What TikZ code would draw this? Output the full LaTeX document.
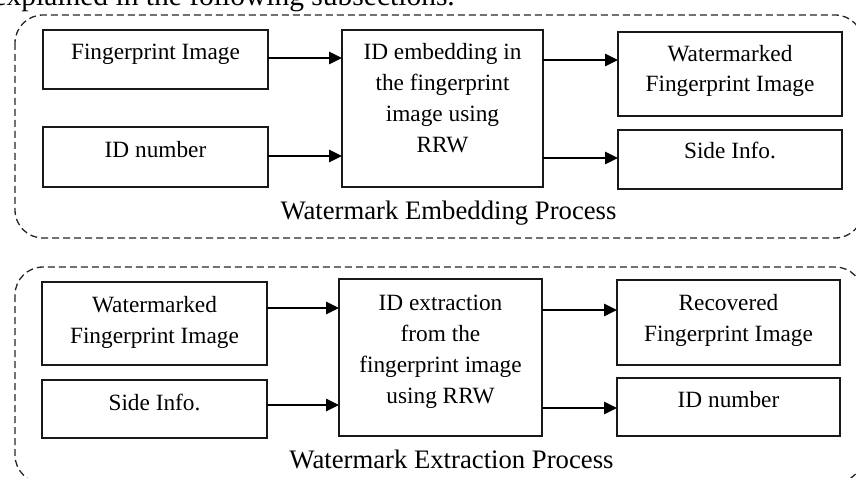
\documentclass[tikz,border=0pt]{standalone}
\usepackage{fontspec}
\setmainfont{Liberation Serif}
\usetikzlibrary{arrows.meta,calc}
\newcommand{\bxt}[4]{\parbox[c][#2][t]{#1}{\centering\rule{0pt}{#3}#4}}
\tikzset{
  blk/.style={draw=black!90, line width=1.5pt, inner sep=0pt, outer sep=0pt,
    font=\fontsize{23.3}{31}\selectfont},
  arr/.style={line width=1.5pt, -{Triangle[length=13pt,width=12.5pt]}},
  dashbox/.style={draw=black!85, line width=1.3pt, dash pattern=on 7pt off 4pt, rounded corners=28pt},
  proclabel/.style={font=\fontsize{26.7}{30}\selectfont, anchor=base, inner sep=0pt},
}
\begin{document}
\begin{tikzpicture}[x=1pt,y=-1pt]
\useasboundingbox (0,0) rectangle (856,478);
\clip (0,0) rectangle (856,478);
% cut page text at top
\node[anchor=base east, inner sep=0pt, font=\fontsize{29.5}{32}\selectfont] (pagetxt) at (455,5.5) {explained in the following subsections.};
% containers
\draw[dashbox] (15,15) rectangle (863,238);
\draw[dashbox] (15,267) rectangle (863,483);
% embedding
\node[blk] (fp1) at (155.5,59.5) {\bxt{225pt}{59pt}{30pt}{Fingerprint Image}};
\node[blk] (id1) at (155.5,157) {\bxt{225pt}{60pt}{31pt}{ID number}};
\node[blk] (emb) at (442.5,108.5) {\bxt{201pt}{157pt}{30pt}{ID embedding in\\the fingerprint\\image using\\RRW}};
\node[blk] (wm1) at (730,74) {\bxt{224pt}{84pt}{30pt}{Watermarked\\[-1pt]Fingerprint Image}};
\node[blk] (si1) at (730,159.5) {\bxt{224pt}{59pt}{29pt}{Side Info.}};
\node[proclabel] (lab1) at (448.5,220) {Watermark Embedding Process};
\coordinate (e1) at ($(fp1.east)+(0,-1.5)$);
\coordinate (e2) at ($(id1.east)+(0,-1)$);
\coordinate (e3) at ($(emb.east)+(0,-48.5)$);
\coordinate (e4) at ($(emb.east)+(0,49.5)$);
\draw[arr] (e1) -- (e1 -| emb.west);
\draw[arr] (e2) -- (e2 -| emb.west);
\draw[arr] (e3) -- (e3 -| wm1.west);
\draw[arr] (e4) -- (e4 -| si1.west);
% extraction
\node[blk] (wm2) at (154.5,323.5) {\bxt{225pt}{83pt}{30pt}{Watermarked\\Fingerprint Image}};
\node[blk] (si2) at (154.5,409) {\bxt{225pt}{58pt}{30pt}{Side Info.}};
\node[blk] (ext) at (440.5,357.5) {\bxt{203pt}{157pt}{31pt}{ID extraction\\from the\\fingerprint image\\using RRW}};
\node[blk] (rec) at (728.5,322.5) {\bxt{223pt}{85pt}{30pt}{Recovered\\Fingerprint Image}};
\node[blk] (id2) at (728.5,407) {\bxt{223pt}{58pt}{29pt}{ID number}};
\node[proclabel] (lab2) at (451.5,468) {Watermark Extraction Process};
\coordinate (x1) at ($(wm2.east)+(0,-15.5)$);
\coordinate (x2) at ($(si2.east)+(0,-4)$);
\coordinate (x3) at ($(ext.east)+(0,-47.5)$);
\coordinate (x4) at ($(ext.east)+(0,50.5)$);
\draw[arr] (x1) -- (x1 -| ext.west);
\draw[arr] (x2) -- (x2 -| ext.west);
\draw[arr] (x3) -- (x3 -| rec.west);
\draw[arr] (x4) -- (x4 -| id2.west);
\end{tikzpicture}
\end{document}
